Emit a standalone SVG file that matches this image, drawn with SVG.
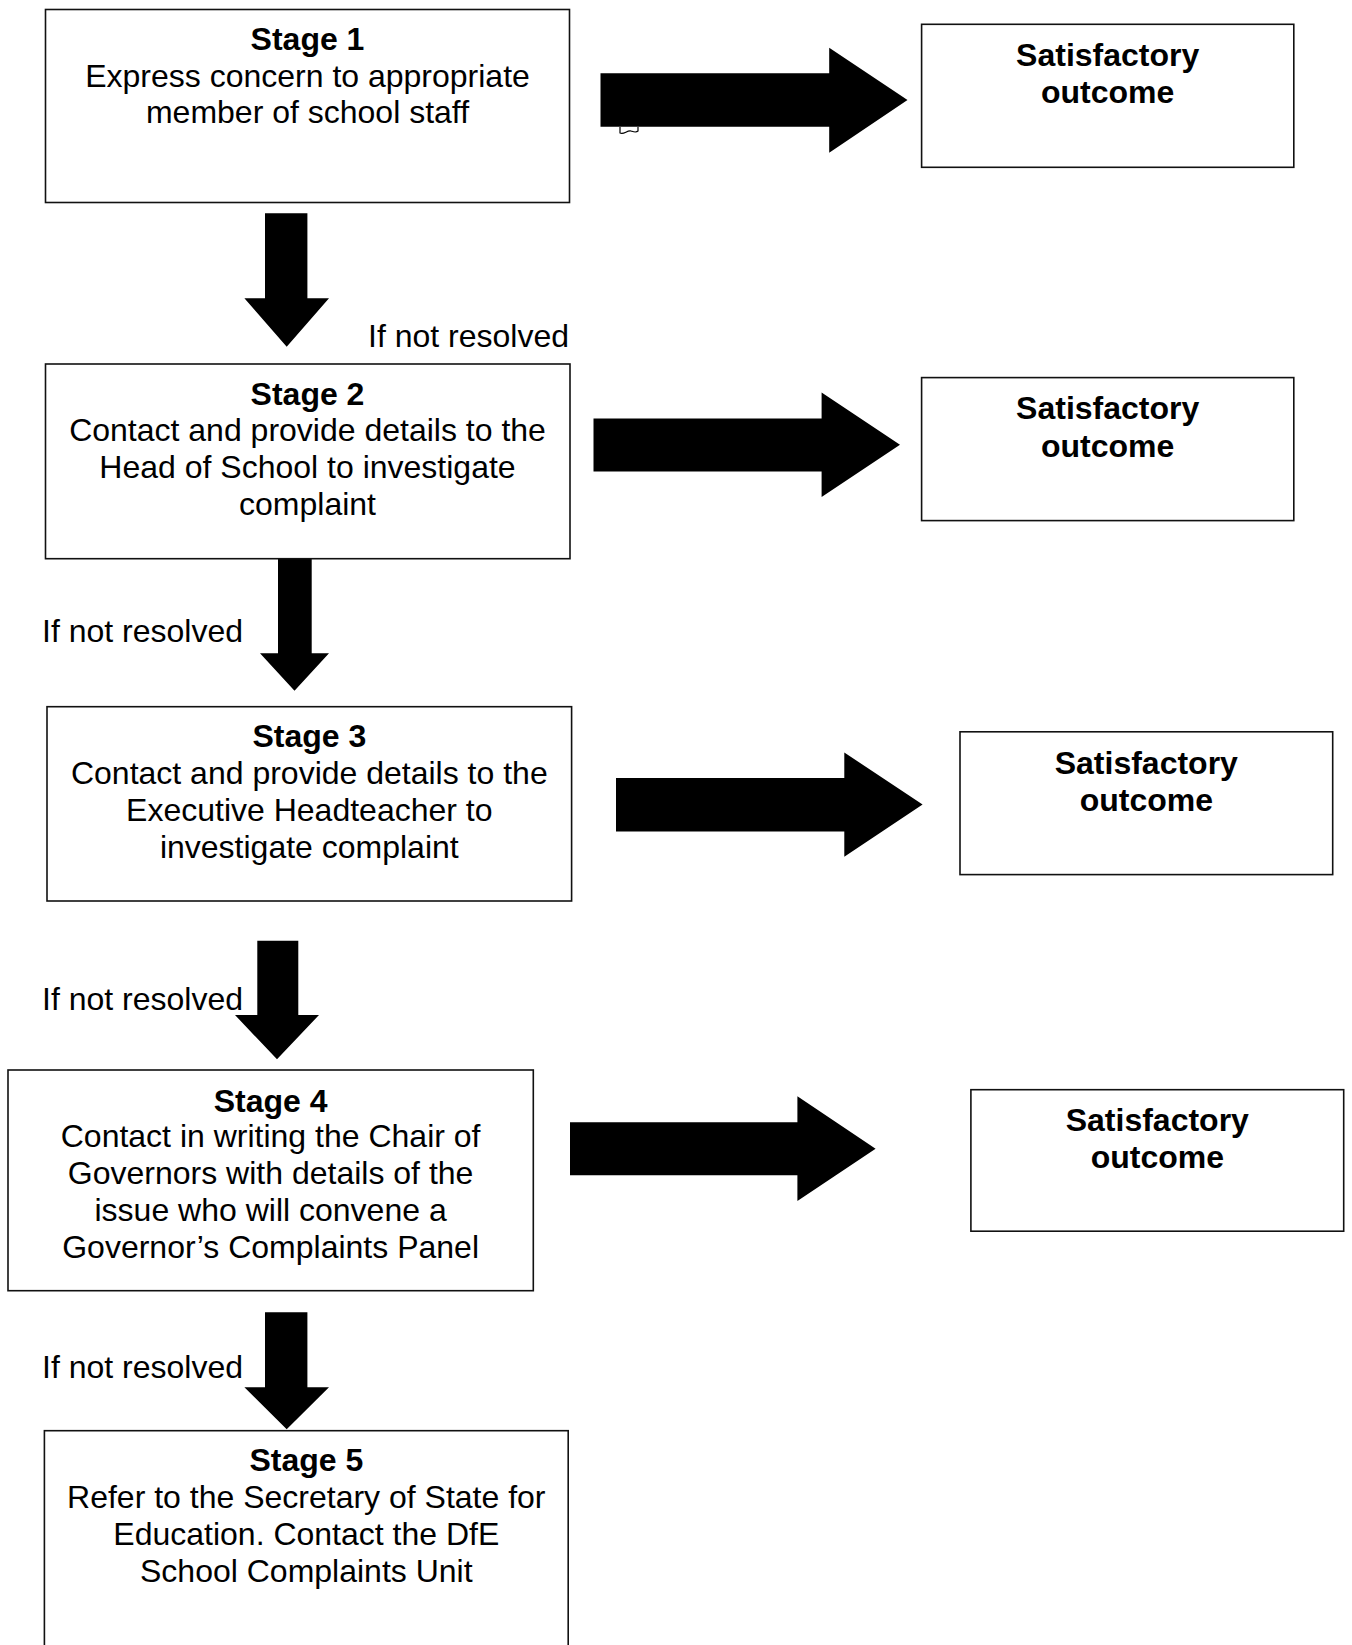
<svg xmlns="http://www.w3.org/2000/svg" width="1352" height="1645" viewBox="0 0 1352 1645">
<style>
.box{fill:#fff;stroke:#111;stroke-width:1.6}
.arr{fill:#000}
text{font-family:"Liberation Sans",Arial,sans-serif;font-size:32px;fill:#000}
.b{font-weight:bold}
.c{text-anchor:middle}
</style>
<rect width="1352" height="1645" fill="#fff"/>
<g id="connectors">
<polygon class="arr" points="600.5,73.3 829.2,73.3 829.2,47.7 907.5,100 829.2,152.7 829.2,126.7 600.5,126.7"/>
<path d="M620,127 V133 C624,135 627,130 631,131 C634,132 636,133 638,131 V127" fill="none" stroke="#000" stroke-width="1.2"/>
<polygon class="arr" points="593.5,418.6 821.6,418.6 821.6,392.5 900,444.8 821.6,497 821.6,471.4 593.5,471.4"/>
<polygon class="arr" points="616,778 844.3,778 844.3,752.5 922.6,804.5 844.3,856.8 844.3,831.4 616,831.4"/>
<polygon class="arr" points="570,1122.3 797.4,1122.3 797.4,1096.3 875.6,1148.7 797.4,1201 797.4,1175.3 570,1175.3"/>
<polygon class="arr" points="265,213.3 307.4,213.3 307.4,298.3 329,298.3 286.7,346.7 244.4,298.3 265,298.3"/>
<polygon class="arr" points="278,558.7 311.7,558.7 311.7,653.3 329,653.3 294.5,690.7 260,653.3 278,653.3"/>
<polygon class="arr" points="257.3,940.7 298.3,940.7 298.3,1015 319,1015 277,1059.3 235,1015 257.3,1015"/>
<polygon class="arr" points="265,1312.3 307.4,1312.3 307.4,1387.3 329,1387.3 286.7,1429.3 244.4,1387.3 265,1387.3"/>
<text x="569" y="347" text-anchor="end">If not resolved</text>
<text x="42" y="642">If not resolved</text>
<text x="42" y="1010">If not resolved</text>
<text x="42" y="1378">If not resolved</text>
</g>
<g id="stage1">
<rect class="box" x="45.5" y="9.5" width="524" height="193"/>
<text class="c b" x="307.5" y="49.5">Stage 1</text>
<text class="c" x="307.5" y="86.5">Express concern to appropriate</text>
<text class="c" x="307.5" y="123">member of school staff</text>
</g>
<g id="outcome1">
<rect class="box" x="921.6" y="24.3" width="372.2" height="143"/>
<text class="c b" x="1107.7" y="65.5">Satisfactory</text>
<text class="c b" x="1107.7" y="103">outcome</text>
</g>
<g id="stage2">
<rect class="box" x="45.5" y="364" width="524.5" height="194.7"/>
<text class="c b" x="307.5" y="405">Stage 2</text>
<text class="c" x="307.5" y="441">Contact and provide details to the</text>
<text class="c" x="307.5" y="478">Head of School to investigate</text>
<text class="c" x="307.5" y="515">complaint</text>
</g>
<g id="outcome2">
<rect class="box" x="921.6" y="377.6" width="372.2" height="143"/>
<text class="c b" x="1107.7" y="419">Satisfactory</text>
<text class="c b" x="1107.7" y="456.5">outcome</text>
</g>
<g id="stage3">
<rect class="box" x="47" y="706.7" width="524.6" height="194.3"/>
<text class="c b" x="309.3" y="746.5">Stage 3</text>
<text class="c" x="309.3" y="783.5">Contact and provide details to the</text>
<text class="c" x="309.3" y="820.5">Executive Headteacher to</text>
<text class="c" x="309.3" y="857.5">investigate complaint</text>
</g>
<g id="outcome3">
<rect class="box" x="960" y="731.8" width="372.7" height="142.8"/>
<text class="c b" x="1146.3" y="774">Satisfactory</text>
<text class="c b" x="1146.3" y="811">outcome</text>
</g>
<g id="stage4">
<rect class="box" x="8" y="1070" width="525.3" height="220.7"/>
<text class="c b" x="270.6" y="1112">Stage 4</text>
<text class="c" x="270.6" y="1147">Contact in writing the Chair of</text>
<text class="c" x="270.6" y="1184">Governors with details of the</text>
<text class="c" x="270.6" y="1221">issue who will convene a</text>
<text class="c" x="270.6" y="1258">Governor’s Complaints Panel</text>
</g>
<g id="outcome4">
<rect class="box" x="970.9" y="1089.7" width="372.8" height="141.5"/>
<text class="c b" x="1157.3" y="1130.5">Satisfactory</text>
<text class="c b" x="1157.3" y="1168">outcome</text>
</g>
<g id="stage5">
<rect class="box" x="44.4" y="1430.7" width="523.8" height="240"/>
<text class="c b" x="306.3" y="1471">Stage 5</text>
<text class="c" x="306.3" y="1508">Refer to the Secretary of State for</text>
<text class="c" x="306.3" y="1545">Education. Contact the DfE</text>
<text class="c" x="306.3" y="1582">School Complaints Unit</text>
</g>
</svg>
